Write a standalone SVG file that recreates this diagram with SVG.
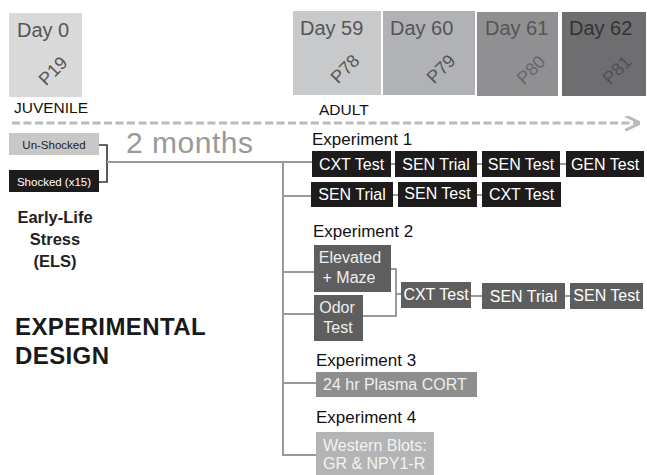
<svg xmlns="http://www.w3.org/2000/svg" width="647" height="475" viewBox="0 0 647 475">
<defs>
<style>
text{font-family:"Liberation Sans",Arial,sans-serif}
.day{font-size:20px}
.pd{font-size:18px;text-anchor:middle}
.exp{font-size:17px;fill:#111}
.bt{font-size:16px;fill:#fff;text-anchor:middle}
.blk{fill:#1e1b1c}
.dk{fill:#5e5e5e}
.ln{stroke:#9a9a9a;stroke-width:2;fill:none}
</style>
<marker id="ah" viewBox="0 0 10 10" refX="8" refY="5" markerWidth="5" markerHeight="5" orient="auto" markerUnits="strokeWidth"><path d="M0,0 L10,5 L0,10" fill="none" stroke="#bbbbbb" stroke-width="2"/></marker>
</defs>
<rect width="647" height="475" fill="#fff"/>

<g id="day0">
<rect x="9" y="13" width="73" height="84" fill="#d9d9da"/>
<text class="day" x="17" y="37" fill="#555">Day 0</text>
<text class="pd" x="53" y="77" fill="#555" transform="rotate(-45 53 71)">P19</text>
</g>
<g id="day59">
<rect x="293" y="11" width="88" height="84" fill="#c8c9cb"/>
<text class="day" x="300" y="35" fill="#555">Day 59</text>
<text class="pd" x="345" y="75" fill="#555" transform="rotate(-45 345 69)">P78</text>
</g>
<g id="day60">
<rect x="383" y="11" width="92" height="84" fill="#b1b2b5"/>
<text class="day" x="390" y="35" fill="#555">Day 60</text>
<text class="pd" x="441" y="75" fill="#555" transform="rotate(-45 441 69)">P79</text>
</g>
<g id="day61">
<rect x="477" y="12" width="81" height="84" fill="#909093"/>
<text class="day" x="485" y="35" fill="#555">Day 61</text>
<text class="pd" x="531" y="76" fill="#666669" transform="rotate(-45 531 70)">P80</text>
</g>
<g id="day62">
<rect x="562" y="12" width="84" height="84" fill="#6e6e71"/>
<text class="day" x="569" y="35" fill="#333">Day 62</text>
<text class="pd" x="617" y="76" fill="#505053" transform="rotate(-45 617 70)">P81</text>
</g>

<text x="14" y="113" style="font-size:15.5px" fill="#111">JUVENILE</text>
<text x="319" y="115" style="font-size:15.5px" fill="#111">ADULT</text>

<g id="connectors">
<line x1="12" y1="123" x2="637" y2="123" stroke="#bbbbbb" stroke-width="3" stroke-dasharray="8,3.5" marker-end="url(#ah)"/>
<path d="M99,145 H107 V182 H99" stroke="#333" stroke-width="1.6" fill="none"/>
<path class="ln" d="M107,162 H312"/>
<path class="ln" d="M283,162 V455 H316"/>
<path class="ln" d="M283,196 H311"/>
<path class="ln" d="M391,164 H395 M477,164 H482 M560,164 H566"/>
<path class="ln" d="M393,195 H398 M477,195 H482"/>
<path class="ln" d="M283,272 H314 M283,314 H314"/>
<path class="ln" d="M391,269 H396 V316 H363 M396,294 H401"/>
<path class="ln" d="M471,296 H482 M565,296 H570"/>
<path class="ln" d="M283,383 H316"/>
</g>

<g id="unshocked">
<rect x="9" y="133" width="90" height="22" fill="#c8c8c8"/>
<text x="54" y="148.5" style="font-size:11.5px;text-anchor:middle" fill="#222">Un-Shocked</text>
</g>
<g id="shocked">
<rect x="9" y="170" width="90" height="22" fill="#1e1b1c"/>
<text x="54" y="185.5" style="font-size:11.5px;text-anchor:middle" fill="#fff">Shocked (x15)</text>
</g>
<text x="126" y="153" style="font-size:30px;letter-spacing:0.5px" fill="#999">2 months</text>

<g id="els">
<text style="font-size:16.5px;font-weight:bold;text-anchor:middle" fill="#222"><tspan x="55" y="223">Early-Life</tspan><tspan x="55" y="245">Stress</tspan><tspan x="55" y="267">(ELS)</tspan></text>
</g>
<g id="title">
<text style="font-size:24px;font-weight:bold;letter-spacing:0.4px" fill="#1a1a1a"><tspan x="15" y="335">EXPERIMENTAL</tspan><tspan x="15" y="364">DESIGN</tspan></text>
</g>

<text class="exp" x="312" y="145">Experiment 1</text>
<g id="e1a"><rect class="blk" x="312" y="151" width="79" height="26"/><text class="bt" x="351.5" y="169.5">CXT Test</text></g>
<g id="e1b"><rect class="blk" x="395" y="151" width="82" height="26"/><text class="bt" x="436" y="169.5">SEN Trial</text></g>
<g id="e1c"><rect class="blk" x="482" y="151" width="78" height="26"/><text class="bt" x="521" y="169.5">SEN Test</text></g>
<g id="e1d"><rect class="blk" x="566" y="151" width="78" height="26"/><text class="bt" x="605" y="169.5">GEN Test</text></g>
<g id="e1e"><rect class="blk" x="311" y="182" width="82" height="25"/><text class="bt" x="352" y="200">SEN Trial</text></g>
<g id="e1f"><rect class="blk" x="398" y="182" width="79" height="25"/><text class="bt" x="437.5" y="199">SEN Test</text></g>
<g id="e1g"><rect class="blk" x="482" y="182" width="79" height="25"/><text class="bt" x="521.5" y="200">CXT Test</text></g>

<text class="exp" x="313" y="237">Experiment 2</text>
<g id="e2a"><rect class="dk" x="314" y="245" width="77" height="47"/><text class="bt"><tspan x="350" y="263" fill="#eee">Elevated</tspan><tspan x="349" y="283" fill="#eee">+ Maze</tspan></text></g>
<g id="e2b"><rect class="dk" x="314" y="295" width="49" height="46"/><text class="bt"><tspan x="337" y="313" fill="#eee">Odor</tspan><tspan x="338" y="333" fill="#eee">Test</tspan></text></g>
<g id="e2c"><rect class="dk" x="401" y="282" width="70" height="26"/><text class="bt" x="436" y="300" fill="#eee">CXT Test</text></g>
<g id="e2d"><rect class="dk" x="482" y="283" width="83" height="26"/><text class="bt" x="523.5" y="301.5" fill="#eee">SEN Trial</text></g>
<g id="e2e"><rect class="dk" x="570" y="283" width="73" height="26"/><text class="bt" x="606.5" y="301" fill="#eee">SEN Test</text></g>

<text class="exp" x="316" y="366">Experiment 3</text>
<g id="e3"><rect x="316" y="372" width="161" height="25" fill="#8e8e8e"/><text x="323" y="390" style="font-size:16px" fill="#eee">24 hr Plasma CORT</text></g>

<text class="exp" x="316" y="423">Experiment 4</text>
<g id="e4"><rect x="316" y="432" width="118" height="43" fill="#b4b4b4"/><text style="font-size:16px" fill="#f2f2f2"><tspan x="323" y="451">Western Blots:</tspan><tspan x="323" y="469">GR &amp; NPY1-R</tspan></text></g>
</svg>
